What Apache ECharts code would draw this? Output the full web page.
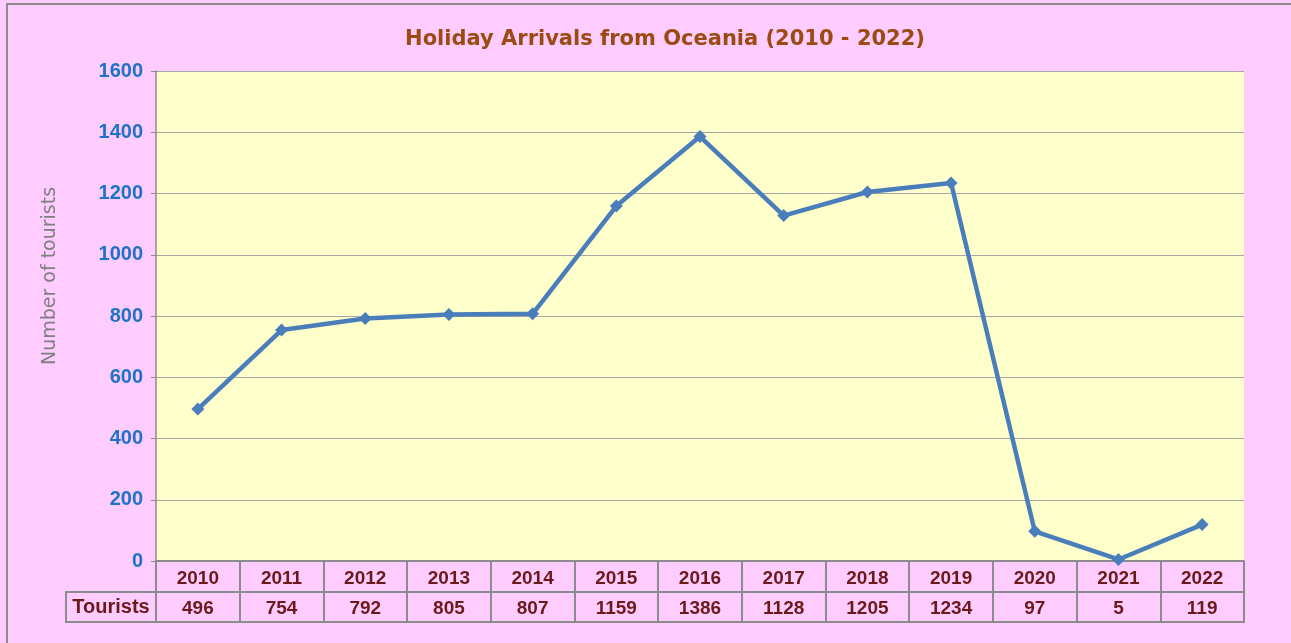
<!DOCTYPE html>
<html>
<head>
<meta charset="utf-8">
<script src="https://cdn.jsdelivr.net/npm/echarts@6/dist/echarts.min.js"></script>
<style>
  html, body { margin: 0; padding: 0; background: #ffccff; }
  #chart { width: 1291px; height: 643px; }
</style>
</head>
<body>
<div id="chart"></div>
<script>
// chart data
var years = ['2010', '2011', '2012', '2013', '2014', '2015', '2016', '2017', '2018', '2019', '2020', '2021', '2022']
var tourists = [496, 754, 792, 805, 807, 1159, 1386, 1128, 1205, 1234, 97, 5, 119]
var seriesName = 'Tourists'

var gridLeft = 156
var gridTop = 71
var gridRight = 47
var gridBottom = 82
var rowH = 31
var tableColor = '#8c8c8c'
var textRed = '#6b1a1a'
var labelFont = 'Liberation Sans'

var myChart = echarts.init(document.getElementById('chart'))

var option = {
  backgroundColor: '#ffccff',
  animation: false,
  title: {
    text: 'Holiday Arrivals from Oceania (2010 - 2022)',
    left: 660,
    textAlign: 'center',
    top: 24,
    textStyle: {
      color: '#9c4a12',
      fontFamily: 'DejaVu Sans',
      fontWeight: 'bold',
      fontSize: 21
    }
  },
  grid: {
    left: gridLeft,
    top: gridTop,
    right: gridRight,
    bottom: gridBottom,
    show: true,
    backgroundColor: '#ffffcc',
    borderWidth: 0
  },
  xAxis: [
    {
      // year row
      type: 'category',
      data: years,
      position: 'bottom',
      axisLine: { show: true, lineStyle: { color: tableColor, width: 2 } },
      axisTick: { show: true, interval: 0, length: rowH * 2, lineStyle: { color: tableColor, width: 2 } },
      axisLabel: {
        interval: 0,
        margin: 8,
        color: textRed,
        fontFamily: labelFont,
        fontWeight: 'bold',
        fontSize: 19
      },
      splitLine: { show: false }
    },
    {
      // value row
      type: 'category',
      data: years,
      position: 'bottom',
      offset: rowH,
      axisLine: { show: true, lineStyle: { color: tableColor, width: 2 } },
      axisTick: { show: false },
      axisLabel: {
        interval: 0,
        margin: 7,
        color: textRed,
        fontFamily: labelFont,
        fontWeight: 'bold',
        fontSize: 19,
        formatter: function(v, i) { return String(tourists[i]) }
      }
    },
    {
      // bottom border of the table
      type: 'category',
      data: years,
      position: 'bottom',
      offset: rowH * 2 - 1,
      axisLine: { show: true, lineStyle: { color: tableColor, width: 2 } },
      axisTick: { show: false },
      axisLabel: { show: false }
    }
  ],
  yAxis: {
    type: 'value',
    min: 0,
    max: 1600,
    interval: 200,
    axisLine: { show: true, lineStyle: { color: '#8c8c8c', width: 1.5 } },
    axisTick: { show: true, length: 5, lineStyle: { color: '#8c8c8c' } },
    axisLabel: {
      margin: 13,
      color: '#1e73c8',
      fontFamily: labelFont,
      fontWeight: 'bold',
      fontSize: 20,
      formatter: function(v) { return String(v) }
    },
    splitLine: { show: true, lineStyle: { color: '#a6a6a6', width: 1 } }
  },
  series: [
    {
      name: seriesName,
      type: 'line',
      data: tourists,
      symbol: 'diamond',
      symbolSize: 13,
      lineStyle: { color: '#4a7ebb', width: 4.5 },
      itemStyle: { color: '#4a7ebb' }
    }
  ],
  graphic: [
    {
      type: 'rect',
      silent: true,
      shape: { x: 7, y: 4, width: 1320, height: 700 },
      style: { fill: 'none', stroke: '#8c8c8c', lineWidth: 2 }
    },
    {
      type: 'rect',
      silent: true,
      shape: { x: 66, y: 643 - gridBottom + rowH, width: gridLeft - 66, height: rowH - 1 },
      style: { fill: 'none', stroke: tableColor, lineWidth: 2 }
    },
    {
      type: 'text',
      silent: true,
      x: 111,
      y: 643 - gridBottom + rowH + rowH / 2,
      style: {
        text: seriesName,
        align: 'center',
        verticalAlign: 'middle',
        fill: textRed,
        font: 'bold 20px "Liberation Sans"'
      }
    },
    {
      type: 'text',
      silent: true,
      x: 50,
      y: 276,
      rotation: Math.PI / 2,
      style: {
        text: 'Number of tourists',
        align: 'center',
        verticalAlign: 'middle',
        fill: '#808080',
        font: '19px "DejaVu Sans"'
      }
    }
  ]
}

myChart.setOption(option)
window.addEventListener('resize', function() {
  myChart.resize()
})
</script>
</body>
</html>
